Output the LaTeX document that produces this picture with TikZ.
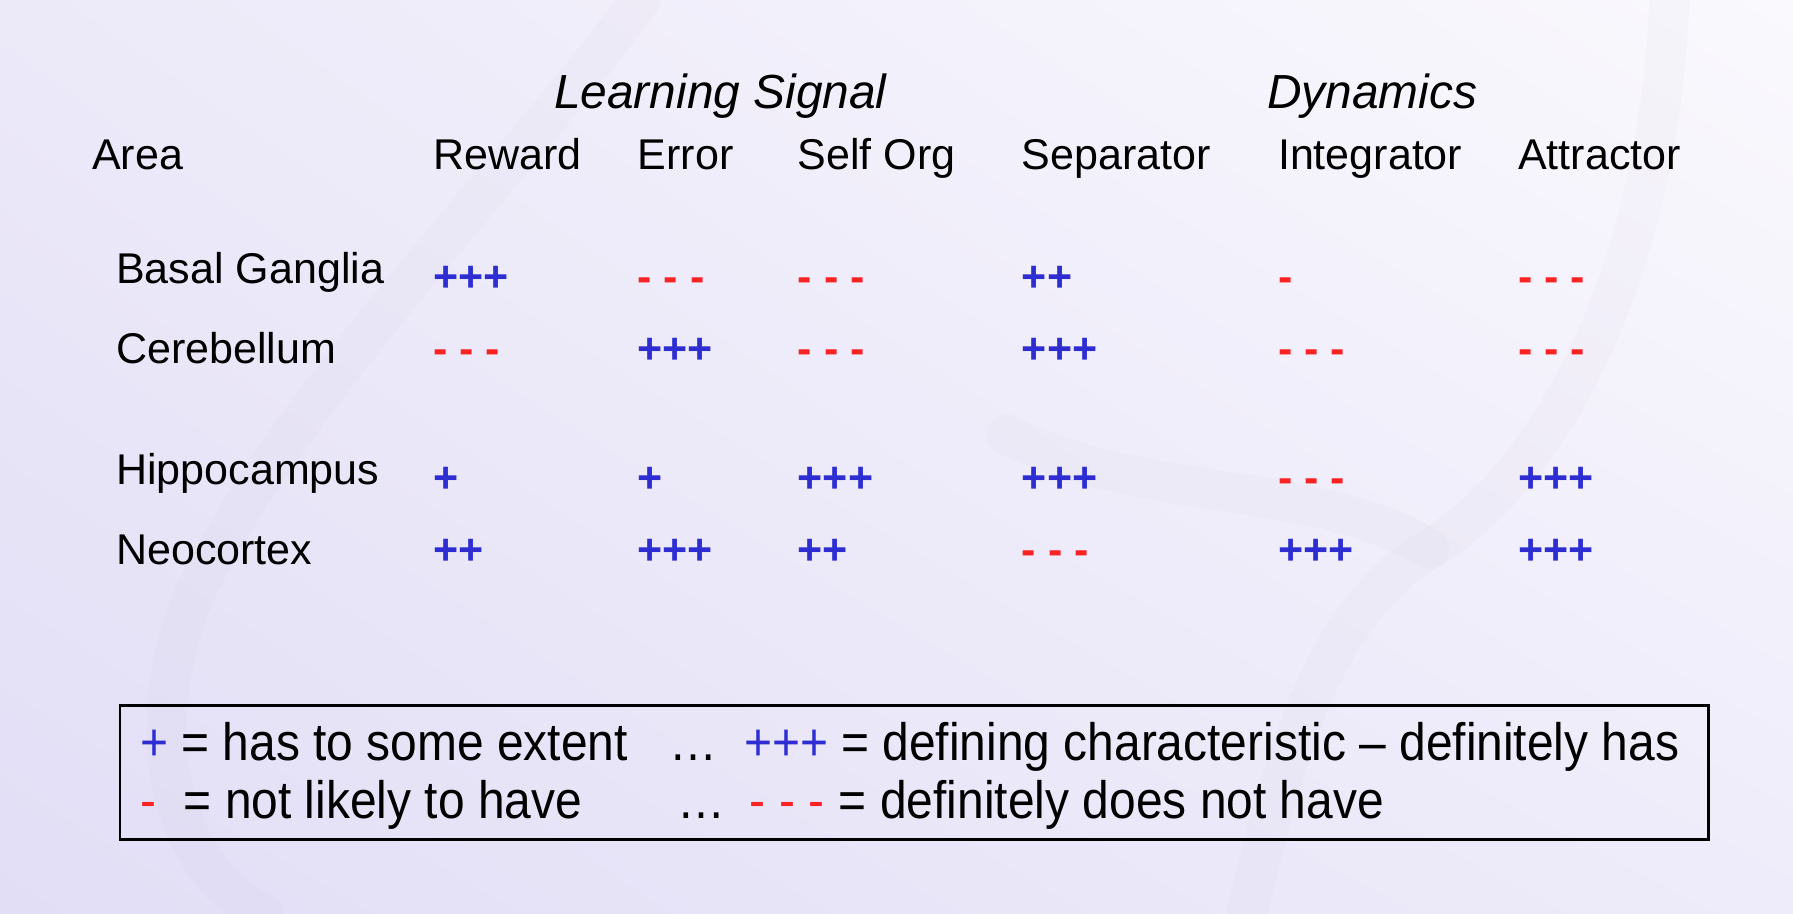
\documentclass[tikz,border=0pt]{standalone}
\usepackage{fontspec}
\setmainfont{Liberation Sans}
\newfontfamily\legendfont[FakeStretch=0.91]{Liberation Sans}
\usetikzlibrary{shadings}
\definecolor{plusblue}{RGB}{45,45,210}
\definecolor{minusred}{RGB}{250,35,35}
\definecolor{bgul}{RGB}{236,233,249}
\definecolor{bgur}{RGB}{250,249,253}
\definecolor{bgll}{RGB}{226,222,246}
\definecolor{bglr}{RGB}{238,236,250}
\definecolor{veil}{RGB}{120,110,160}
\begin{document}
\begin{tikzpicture}[x=0.01cm,y=-0.01cm,
  head/.style={font=\fontsize{11.9}{14}\selectfont\itshape,anchor=base,inner sep=0pt},
  lbl/.style={font=\fontsize{10.7}{13}\selectfont,anchor=base west,inner sep=0pt},
  yes/.style={lbl,font=\fontsize{10.7}{13}\selectfont\bfseries,text=plusblue},
  no/.style={lbl,font=\fontsize{10.7}{13}\selectfont\bfseries,text=minusred},
  key/.style={font=\legendfont\fontsize{13.1}{16}\selectfont,anchor=base west,inner sep=0pt},
  wmark/.style={draw=veil,opacity=.025,line width=10pt,line cap=round}]

\useasboundingbox (0,0) rectangle (1568,799);
\shade[upper left=bgul,upper right=bgur,lower left=bgll,lower right=bglr] (0,0) rectangle (1568,799);
\draw[wmark] (1460,0) .. controls (1450,250) and (1350,420) .. (1250,480) .. controls (1150,540) and (1120,680) .. (1090,799);
\draw[wmark] (880,380) .. controls (1000,440) and (1150,420) .. (1250,480);
\draw[wmark] (560,0) .. controls (450,150) and (250,350) .. (170,520) .. controls (120,640) and (150,760) .. (230,799);

\node[head] (lsig) at (630,95) {Learning Signal};
\node[head] (dyn) at (1200,95) {Dynamics};

\node[lbl] (area) at (80,148) {Area};
\node[lbl] (rew) at (378,148) {Reward};
\node[lbl] (err) at (557,148) {Error};
\node[lbl] (sorg) at (697,148) {Self Org};
\node[lbl] (sep) at (893,148) {Separator};
\node[lbl] (integ) at (1117,148) {Integrator};
\node[lbl] (attr) at (1327,148) {Attractor};

\node[lbl] (bg) at (101,248) {Basal Ganglia};
\node[lbl] (cb) at (101,318) {Cerebellum};
\node[lbl] (hc) at (101,424) {Hippocampus};
\node[lbl] (nc) at (101,494) {Neocortex};

\node[yes] (bg-rew) at (378,255) {+++};
\node[no] (bg-err) at (557,255) {- - -};
\node[no] (bg-sorg) at (697,255) {- - -};
\node[yes] (bg-sep) at (893,255) {++};
\node[no] (bg-integ) at (1117,255) {-};
\node[no] (bg-attr) at (1327,255) {- - -};

\node[no] (cb-rew) at (378,318) {- - -};
\node[yes] (cb-err) at (557,318) {+++};
\node[no] (cb-sorg) at (697,318) {- - -};
\node[yes] (cb-sep) at (893,318) {+++};
\node[no] (cb-integ) at (1117,318) {- - -};
\node[no] (cb-attr) at (1327,318) {- - -};

\node[yes] (hc-rew) at (378,431) {+};
\node[yes] (hc-err) at (557,431) {+};
\node[yes] (hc-sorg) at (697,431) {+++};
\node[yes] (hc-sep) at (893,431) {+++};
\node[no] (hc-integ) at (1117,431) {- - -};
\node[yes] (hc-attr) at (1327,431) {+++};

\node[yes] (nc-rew) at (378,494) {++};
\node[yes] (nc-err) at (557,494) {+++};
\node[yes] (nc-sorg) at (697,494) {++};
\node[no] (nc-sep) at (893,494) {- - -};
\node[yes] (nc-integ) at (1117,494) {+++};
\node[yes] (nc-attr) at (1327,494) {+++};

\draw[line width=.7pt] (105,617) rectangle (1494,734);
\node[key,text=plusblue] (k1) at (122,665) {+};
\node[key] (k1t) at (158,665) {= has to some extent};
\node[key] (k1d) at (585,665) {…};
\node[key,text=plusblue] (k3) at (650,665) {+++};
\node[key] (k3t) at (735,665) {= defining characteristic – definitely has};
\node[key,text=minusred] (m1) at (122,716) {-};
\node[key] (m1t) at (160,716) {= not likely to have};
\node[key] (m1d) at (592,716) {…};
\node[key,text=minusred] (m3) at (655,716) {- - -};
\node[key] (m3t) at (733,716) {= definitely does not have};
\end{tikzpicture}
\end{document}
